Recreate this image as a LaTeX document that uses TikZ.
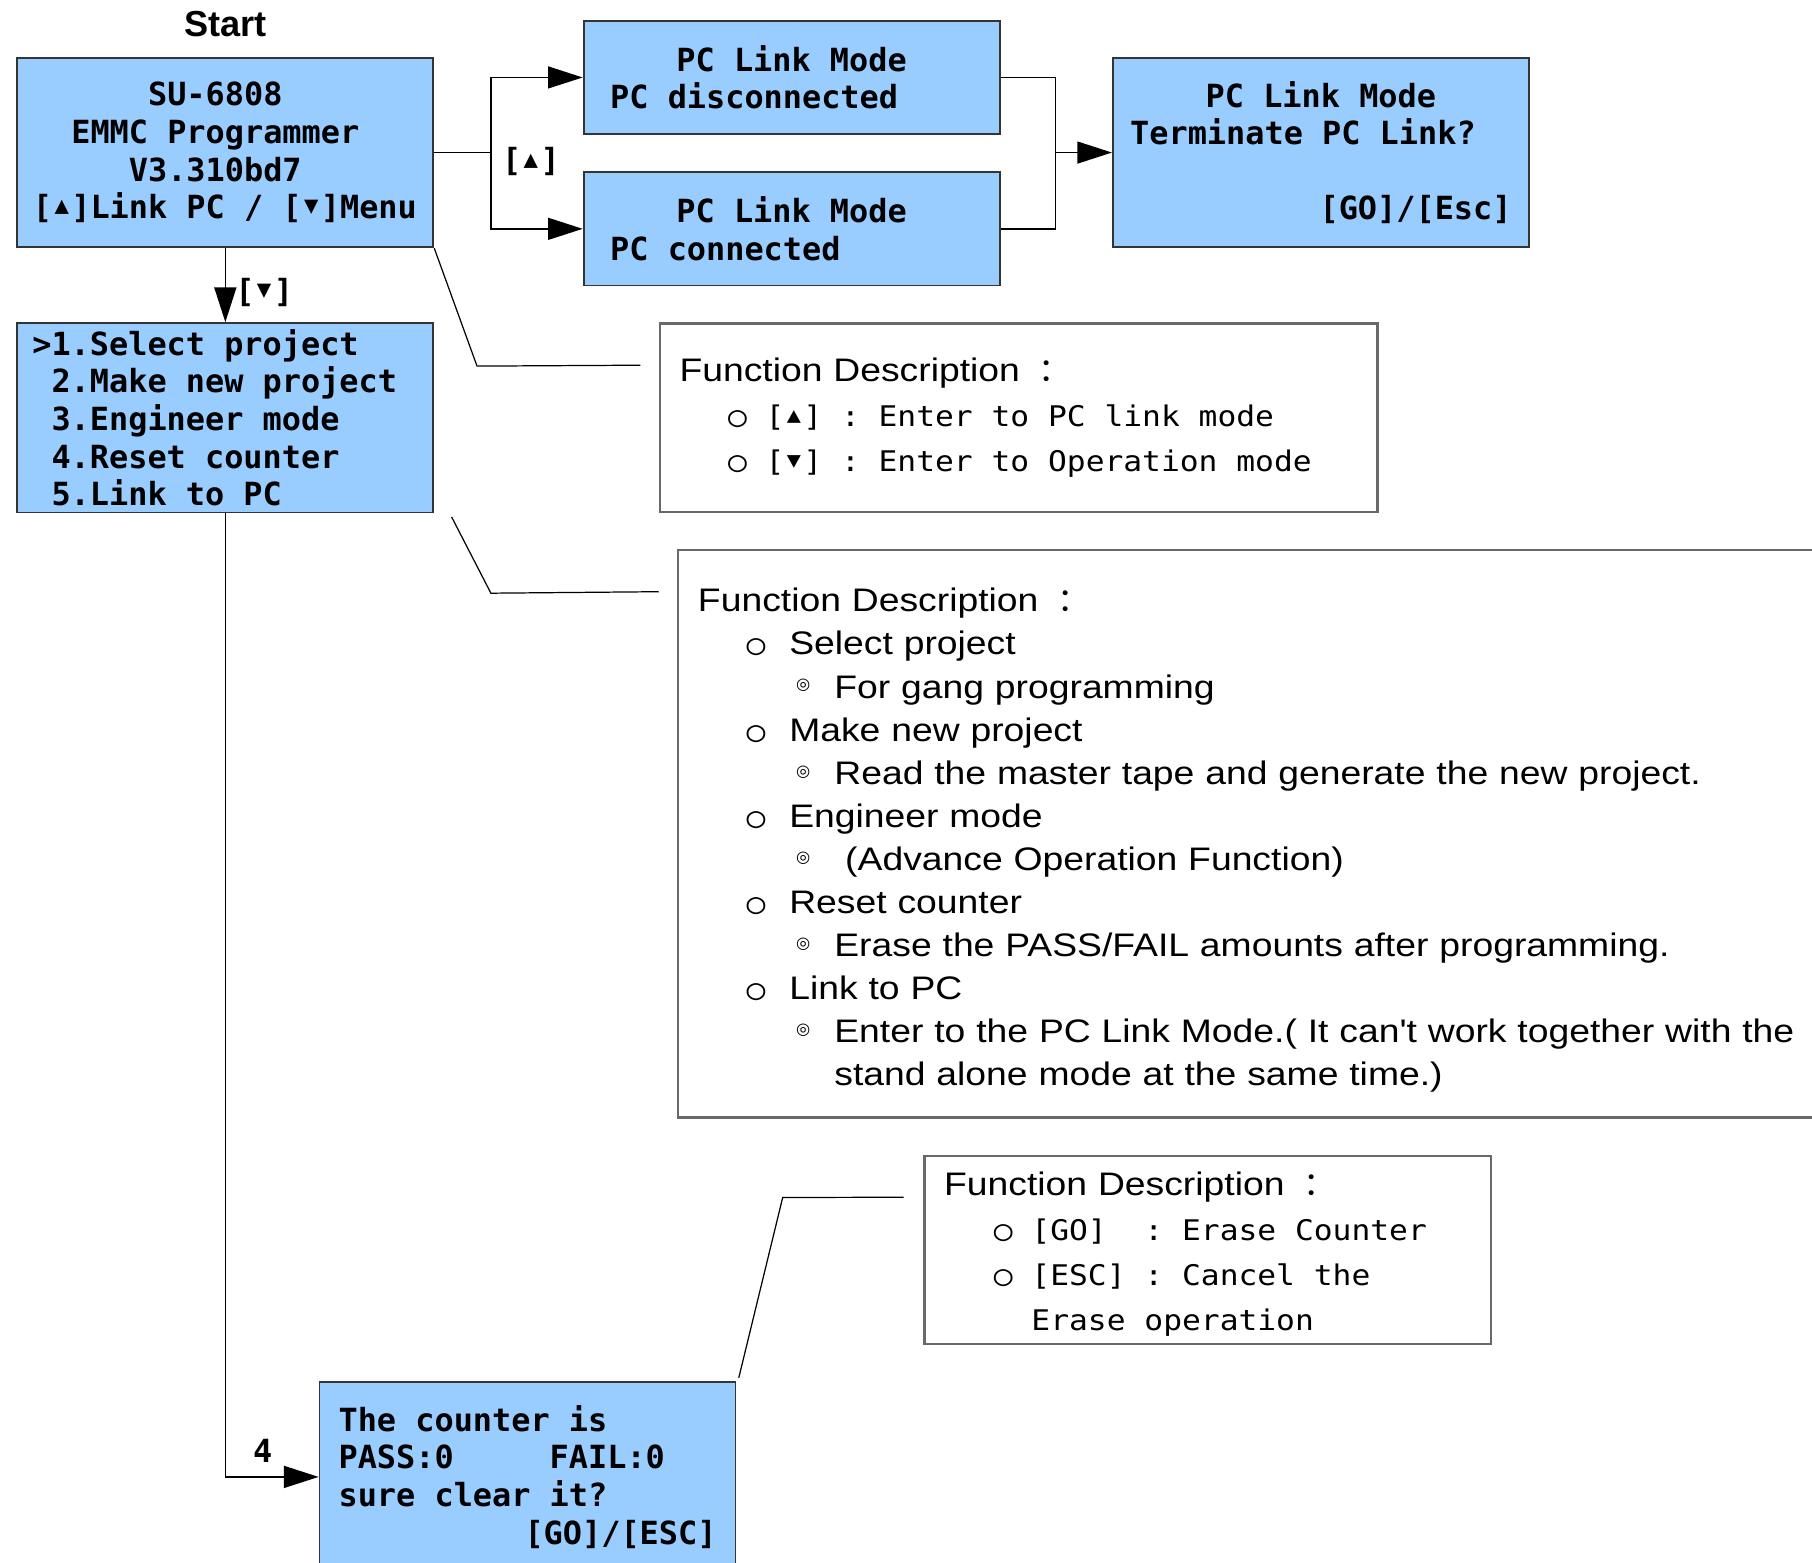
\documentclass[tikz,border=0pt]{standalone}
\usepackage{fontspec}
\setmainfont{Liberation Sans}
\newfontfamily\notefont[FakeStretch=1.145, Ligatures=TeXOff]{Liberation Sans}
\newfontfamily\lcdfont{DejaVu Sans Mono}
\newfontfamily\notemono[FakeStretch=1.1]{DejaVu Sans Mono}
\newfontfamily\symfont{DejaVu Sans}
\newfontfamily\cjkfont{Noto Sans CJK SC}
\usetikzlibrary{positioning, calc, arrows.meta}

\definecolor{lcdblue}{RGB}{153,204,255}
\definecolor{lcdline}{RGB}{52,52,52}
\definecolor{noteline}{RGB}{105,105,105}

% key glyphs and text helpers
\newcommand{\grid}{\spaceskip=\fontcharwd\font`0\relax\xspaceskip=\spaceskip}
\newcommand{\lcdsize}{\fontsize{7.85pt}{9.25pt}\selectfont}
\newcommand{\keycell}[1]{\makebox[\fontcharwd\font`0][c]{#1}}
\newcommand{\keyup}{\keycell{\raisebox{0.15em}{\scalebox{0.75}{▲}}}}
\newcommand{\keydown}{\keycell{\raisebox{0.15em}{\scalebox{0.75}{▼}}}}
\newcommand{\fcolon}{{\hspace{0.07cm}\cjkfont ：}}
\newcommand{\mono}{\notemono\fontsize{7pt}{11pt}\selectfont\grid}
\newcommand{\itm}{\hspace*{0.42cm}\makebox[0.37cm][l]{\mono ○}}
\newcommand{\subitm}{\hspace*{0.85cm}\makebox[0.33cm][l]{\raisebox{2pt}{\symfont\fontsize{4pt}{4pt}\selectfont ◎}}}

\begin{document}
\begin{tikzpicture}[
    lcd/.style={draw=lcdline, fill=lcdblue, line width=0.45pt, inner sep=0pt,
      minimum width=3.6cm, minimum height=1.64cm, font=\lcdfont\bfseries\lcdsize,
      execute at begin node=\grid},
    note/.style={draw=noteline, line width=0.55pt, inner ysep=0pt, inner xsep=0.17cm,
      align=left, font=\notefont\fontsize{8.02pt}{11.1pt}\selectfont},
    keylabel/.style={inner sep=0pt, font=\lcdfont\bfseries\lcdsize},
    flow/.style={line width=0.4pt, -{Triangle[length=3mm, width=1.9mm]}},
    link/.style={line width=0.4pt},
    callout/.style={line width=0.3pt}
  ]
  \useasboundingbox (0,0) rectangle (15.68,-13.525);

  % Nodes
  \node[lcd, text width=3.33cm, align=left] (StartScreen) at (1.95,-1.32) {\phantom{000000}SU-6808\\\phantom{00}EMMC Programmer\\\phantom{00000}V3.310bd7\\{}[\keyup]Link PC / [\keydown]Menu};
  \node[inner sep=0pt, font=\bfseries\fontsize{8.9pt}{10pt}\selectfont, above=0.17cm of StartScreen] (StartLabel) {Start};
  \node[lcd, minimum height=0.98cm, text width=3.14cm, align=left] (LinkOff) at (6.85,-0.67) {\makebox[\hsize]{PC Link Mode}\\PC disconnected};
  \node[lcd, minimum height=0.98cm, text width=3.14cm, align=left] (LinkOn) at (6.85,-1.98) {\makebox[\hsize]{PC Link Mode}\\PC connected};
  \node[lcd, text width=3.3cm, align=left] (LinkEnd) at (11.43,-1.32) {\makebox[\hsize]{PC Link Mode}\\Terminate PC Link?\\\mbox{}\\\makebox[\hsize][r]{[GO]/[Esc]}};
  \node[lcd, text width=3.34cm, align=left] (MainMenu) at (1.95,-3.615) {>1.Select project\\\phantom{>}2.Make new project\\\phantom{>}3.Engineer mode\\\phantom{>}4.Reset counter\\\phantom{>}5.Link to PC};
  \node[lcd, text width=3.27cm, align=left] (ResetCount) at (4.565,-12.78) {The counter is\\PASS:0\phantom{00000}FAIL:0\\sure clear it?\\\makebox[\hsize][r]{[GO]/[ESC]}};

  % Descriptions
  \node[note, minimum width=6.21cm, minimum height=1.63cm, text width=5.87cm] (NoteStart) at (8.815,-3.615) {Function Description\ \fcolon\\
    \hspace*{0.42cm}{\mono ○ [\keyup] : Enter to PC link mode}\\
    \hspace*{0.42cm}{\mono ○ [\keydown] : Enter to Operation mode}};
  \node[note, minimum width=10.5cm, minimum height=4.91cm, text width=10.16cm, font=\notefont\fontsize{8.02pt}{10.6pt}\selectfont] (NoteMenu) at (11.12,-7.215) {\rule{0pt}{9pt}Function Description\ \fcolon\\
    \itm Select project\\
    \subitm For gang programming\\
    \itm Make new project\\
    \subitm Read the master tape and generate the new project.\\
    \itm Engineer mode\\
    \subitm\ (Advance Operation Function)\\
    \itm Reset counter\\
    \subitm Erase the PASS/FAIL amounts after programming.\\
    \itm Link to PC\\
    \subitm Enter to the PC Link Mode.( It can't work together with the\\
    \hspace*{1.18cm}stand alone mode at the same time.)};
  \node[note, minimum width=4.9cm, minimum height=1.63cm, text width=4.56cm] (NoteReset) at (10.45,-10.815) {\rule{0pt}{7.9pt}Function Description\ \fcolon\\
    \hspace*{0.43cm}{\mono ○ [GO]\phantom{00}: Erase Counter}\\
    \hspace*{0.43cm}{\mono ○ [ESC] : Cancel the}\\
    \hspace*{0.43cm}{\mono\phantom{○0}Erase operation}};

  % Edges
  % Start screen to PC link screens
  \coordinate (Fork) at ($(StartScreen.east)+(0.49,0)$);
  \draw[link] (StartScreen.east) -- (Fork);
  \draw[flow] (Fork) |- (LinkOff);
  \draw[flow] (Fork) |- (LinkOn);
  \node[keylabel, anchor=west] (UpKey) at ($(Fork)+(0.09,-0.08)$) {[\keyup]};

  % PC link screens to terminate screen
  \coordinate (Join) at ($(LinkEnd.west)+(-0.49,0)$);
  \draw[link] (LinkOff) -| (Join);
  \draw[link] (LinkOn) -| (Join);
  \draw[flow] (Join) -- (LinkEnd);

  % Start screen to menu
  \draw[flow] (StartScreen) -- node[keylabel, pos=0.6, anchor=west, xshift=0.08cm] (DownKey) {[\keydown]} (MainMenu);

  % Menu to reset counter screen
  \draw[flow] (MainMenu) |- node[keylabel, pos=0.7, above=0.12cm] (ItemKey) {4} (ResetCount);

  % Callouts to the descriptions
  \draw[callout] (StartScreen.south east) -- ++(0.37,-1.02) -- ($(NoteStart.west)+(-0.16,0.455)$);
  \draw[callout] ($(MainMenu.south east)+(0.15,-0.03)$) -- ++(0.34,-0.66) -- ($(NoteMenu.west)+(-0.16,2.095)$);
  \draw[callout] ($(ResetCount.north east)+(0.02,0.03)$) -- ++(0.38,1.56) -- ($(NoteReset.west)+(-0.17,0.455)$);
\end{tikzpicture}
\end{document}
